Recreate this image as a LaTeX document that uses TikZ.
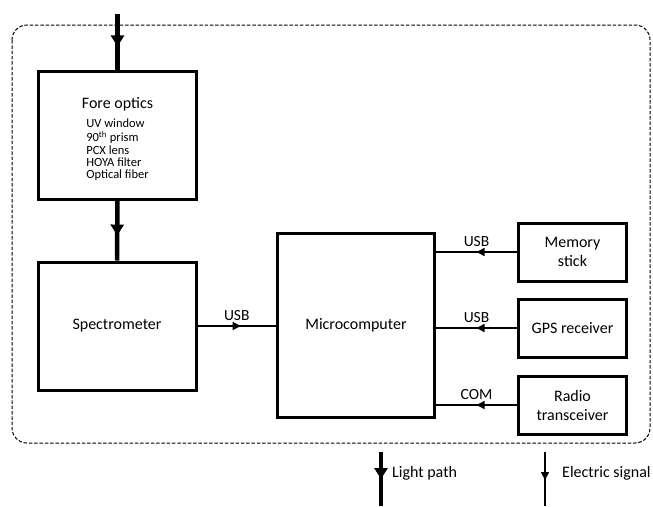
\documentclass[tikz,border=0pt]{standalone}
\usepackage{fontspec}
\setmainfont{Carlito}
\usepackage{tikz}
\usetikzlibrary{arrows.meta,decorations.markings,positioning}

\tikzset{
  blockbox/.style={draw, line width=3pt, minimum width=158pt, minimum height=128pt,
    align=center, inner sep=2pt, font=\fontsize{16}{19}\selectfont},
  sidebox/.style={blockbox, minimum width=108pt, minimum height=58pt},
  lightpath/.style={line width=4.5pt, decoration={markings,
    mark=at position #1 with {\arrow{Triangle[length=11pt,width=13pt]}}}, postaction={decorate}},
  lightpath/.default=0.58,
  elecsig/.style={line width=1.4pt, decoration={markings,
    mark=at position #1 with {\arrow{Triangle[length=8pt,width=8pt]}}}, postaction={decorate}},
  elecsig/.default=0.55,
  portlabel/.style={above, inner sep=5pt, font=\fontsize{15.5}{18}\selectfont},
  legendtext/.style={anchor=west, inner sep=0pt, font=\fontsize{16}{19}\selectfont},
}

\begin{document}
\begin{tikzpicture}[x=1pt, y=-1pt]
  \useasboundingbox (0,0) rectangle (653,506);
  % instrument housing
  \draw[dash pattern=on 3.5pt off 1.8pt, line width=1pt, rounded corners=15pt] (12,25) rectangle (650,443);

  \coordinate (lightin) at (117.5,14);
  \node[blockbox] (fore) at (117.5,135.5) {\rule{0pt}{20pt}Fore optics\\[7pt]
    {\fontsize{12.5}{12}\selectfont\begin{tabular}{@{}l@{}}UV window\\ 90\textsuperscript{th} prism\\ PCX lens\\ HOYA filter\\ Optical fiber\end{tabular}}};
  \node[blockbox] (spec) at (117,326) {Spectrometer};
  \node[blockbox, minimum width=157pt, minimum height=184pt] (micro) at (356,325.5) {Microcomputer};
  \node[sidebox] (mem) at (572.5,252) {Memory\\ stick};
  \node[sidebox] (gps) at (572.5,328) {GPS receiver};
  \node[sidebox] (radio) at (572.5,405) {Radio\\ transceiver};

  \draw[lightpath] (lightin) -- (fore);
  \draw[lightpath] (fore) -- (spec);
  \draw[elecsig] (spec.east) -- node[portlabel] (usbspec) {USB} (spec.east -| micro.west);
  \draw[elecsig=0.5] (mem.west) -- node[portlabel] (usbmem) {USB} (mem.west -| micro.east);
  \draw[elecsig=0.5] (gps.west) -- node[portlabel] (usbgps) {USB} (gps.west -| micro.east);
  \draw[elecsig=0.5] (radio.west) -- node[portlabel] (comradio) {COM} (radio.west -| micro.east);

  % legend
  \coordinate (lptop) at (381,452);
  \coordinate (lpbot) at (381,506);
  \coordinate (estop) at (545,452);
  \coordinate (esbot) at (545,506);
  \draw[lightpath=0.5] (lptop) -- (lpbot);
  \draw[elecsig=0.52] (estop) -- (esbot);
  \node[legendtext] (lplabel) at (392,473) {Light path};
  \node[legendtext] (eslabel) at (562,473) {Electric signal};
\end{tikzpicture}
\end{document}
